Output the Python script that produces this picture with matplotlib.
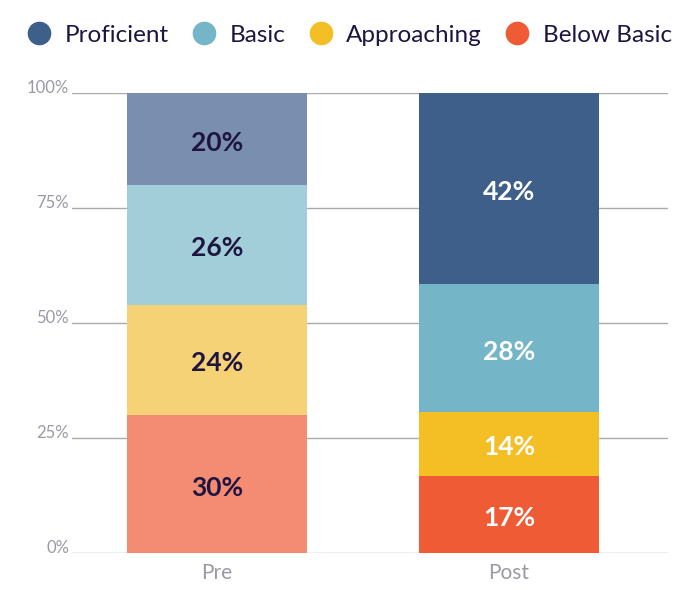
import numpy as np
import matplotlib
matplotlib.use('Agg')
import matplotlib.pyplot as plt
from matplotlib.lines import Line2D

# Data ================================================================
groups=['Pre','Post']
levels=['Below Basic','Approaching','Basic','Proficient']
pre_vals=[30,24,26,20]
post_vals=[17,14,28,42]
labels_pre=['30%','24%','26%','20%']
labels_post=['17%','14%','28%','42%']

# colours: bottom to top
colors_post=['#EE5B35','#F4BE25','#74B5C8','#3E5F8A']
colors_pre=['#F48C73','#F6D277','#A1CED9','#7A8FB0']
legend_order=['Proficient','Basic','Approaching','Below Basic']
legend_colors=['#3E5F8A','#74B5C8','#F4BE25','#EE5B35']

plt.rcParams['font.family']=['Lato','DejaVu Sans']

fig=plt.figure(figsize=(7.0,5.9),dpi=100)
ax=fig.add_axes([72/700,37/590,596/700,460/590])

# normalise each stack to 100
pre=np.array(pre_vals,dtype=float); pre=pre/pre.sum()*100
post=np.array(post_vals,dtype=float); post=post/post.sum()*100

bar_wd=0.616
for ix,(vals,cols,labs,tcol) in enumerate([(pre,colors_pre,labels_pre,'#1E1541'),
                                            (post,colors_post,labels_post,'white')]):
    bottom=0.0
    for v,c,l in zip(vals,cols,labs):
        ax.bar(ix,v,bottom=bottom,width=bar_wd,color=c,zorder=3,linewidth=0)
        ax.text(ix,bottom+v/2-0.8,l,ha='center',va='center',color=tcol,
                fontsize=19,fontweight='bold',zorder=4)
        bottom+=v

ax.set_xlim(-0.497,0.545+1)
ax.set_ylim(0,100)
ax.set_yticks([0,25,50,75,100])
ax.set_yticklabels(['0%','25%','50%','75%','100%'])
ax.set_xticks([0,1])
ax.set_xticklabels(groups)
ax.yaxis.grid(True,color='#AAAAAA',linewidth=1.0,zorder=0)
ax.set_axisbelow(True)
for sp in ax.spines.values():
    sp.set_visible(False)
ax.tick_params(axis='y',length=0,pad=2,labelsize=12,labelcolor='#9A9AA6')
ax.tick_params(axis='x',length=0,pad=7,labelsize=15,labelcolor='#9A9AA6')
for t in ax.get_yticklabels():
    t.set_va('baseline')

# Legend
handles=[Line2D([0],[0],marker='o',linestyle='none',markersize=16,
                markerfacecolor=c,markeredgecolor=c) for c in legend_colors]
fig.legend(handles,legend_order,loc='center',bbox_to_anchor=(0.499,1-35/590),
           ncol=4,frameon=False,fontsize=17.5,handletextpad=0.55,columnspacing=0.95,
           labelcolor='#1E1541',handlelength=1.0)

plt.savefig('out.png',dpi=100)
plt.close('all')
